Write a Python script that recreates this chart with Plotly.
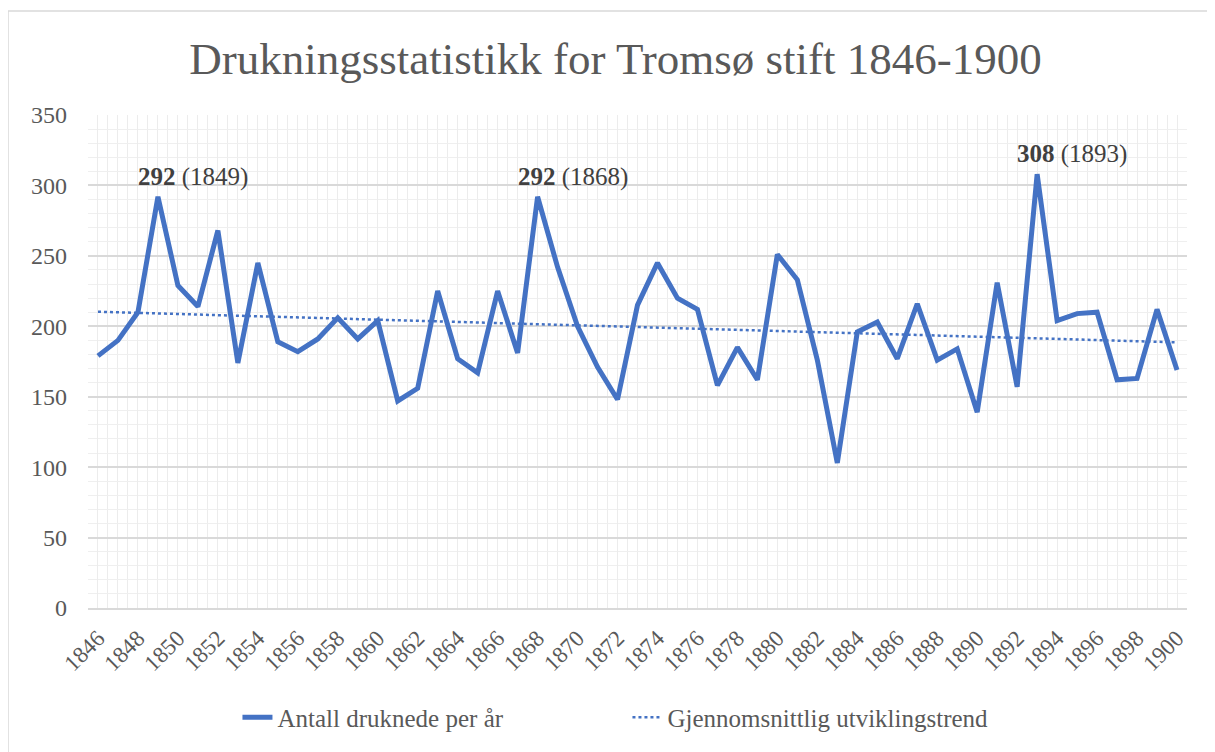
import numpy as np
import plotly.graph_objects as go

# Årlige drukningstall, Tromsø stift
years = list(range(1846, 1901))
drowned = [179, 190, 210, 292, 229, 214, 268, 174, 245, 189,
           182, 191, 206, 191, 204, 147, 156, 225, 177, 167,
           225, 181, 292, 242, 200, 171, 148, 215, 245, 220,
           212, 158, 185, 162, 251, 233, 176, 103, 196, 203,
           177, 216, 176, 184, 139, 231, 157, 308, 204, 209,
           210, 162, 163, 212, 169]
peak_years = [1849, 1868, 1893]
peak_values = [292, 292, 308]

# lineær trendlinje (som Excel)
slope, intercept = np.polyfit(years, drowned, 1)
trend = [slope * y + intercept for y in years]

font = "Liberation Serif, serif"
grey = "#595959"

fig = go.Figure()
fig.add_trace(go.Scatter(
    x=years, y=drowned, mode='lines',
    line=dict(color='#4472C4', width=5),
    name='Antall druknede per år'
))
fig.add_trace(go.Scatter(
    x=years, y=trend, mode='lines',
    line=dict(color='#4472C4', width=2.5, dash='dot'),
    name='Gjennomsnittlig utviklingstrend'
))

for yr, val in zip(peak_years, peak_values):
    fig.add_annotation(
        x=yr, y=val, text=f'<b>{val}</b> ({yr})',
        showarrow=False, xanchor='left', yanchor='middle',
        xshift=-22, yshift=20,
        font=dict(family=font, size=25, color='#404040')
    )

# ramme rundt hele diagrammet
fig.add_shape(type='rect', xref='paper', yref='paper',
              x0=-0.0728, x1=1.0237, y0=-0.2934, y1=1.2112,
              line=dict(color='#d9d9d9', width=1.5))

fig.update_layout(
    width=1215, height=752,
    margin=dict(l=80, r=36, t=107, b=152),
    paper_bgcolor='white', plot_bgcolor='white',
    title=dict(text='Drukningsstatistikk for Tromsø stift 1846-1900',
               x=0.5, xanchor='center', y=0.933, yanchor='middle',
               font=dict(family=font, size=45, color=grey)),
    font=dict(family=font, color=grey),
    showlegend=True,
    legend=dict(orientation='h', x=0.136, xanchor='left', y=-0.222,
                yanchor='middle', font=dict(size=25, color=grey),
                entrywidth=345, entrywidthmode='pixels'),
)

fig.update_xaxes(
    range=[1845.5, 1900.5], tick0=1846, dtick=2, tickangle=-45,
    tickfont=dict(family=font, size=23, color=grey),
    showgrid=True, gridcolor='#ececec', gridwidth=1,
    minor=dict(tick0=1845.5, dtick=0.5, showgrid=True,
               gridcolor='#ececec', gridwidth=1),
    showline=True, linecolor='#d9d9d9', linewidth=1.5,
    zeroline=False, ticks='', ticklabelstandoff=6
)
fig.update_yaxes(
    range=[0, 350], dtick=50,
    tickfont=dict(family=font, size=24, color=grey),
    showgrid=True, gridcolor='#d9d9d9', gridwidth=1.5,
    minor=dict(dtick=10, showgrid=True, gridcolor='#efefef', gridwidth=1),
    zeroline=False, showline=False, ticks='', ticklabelstandoff=20
)

fig.write_html("out.html")
